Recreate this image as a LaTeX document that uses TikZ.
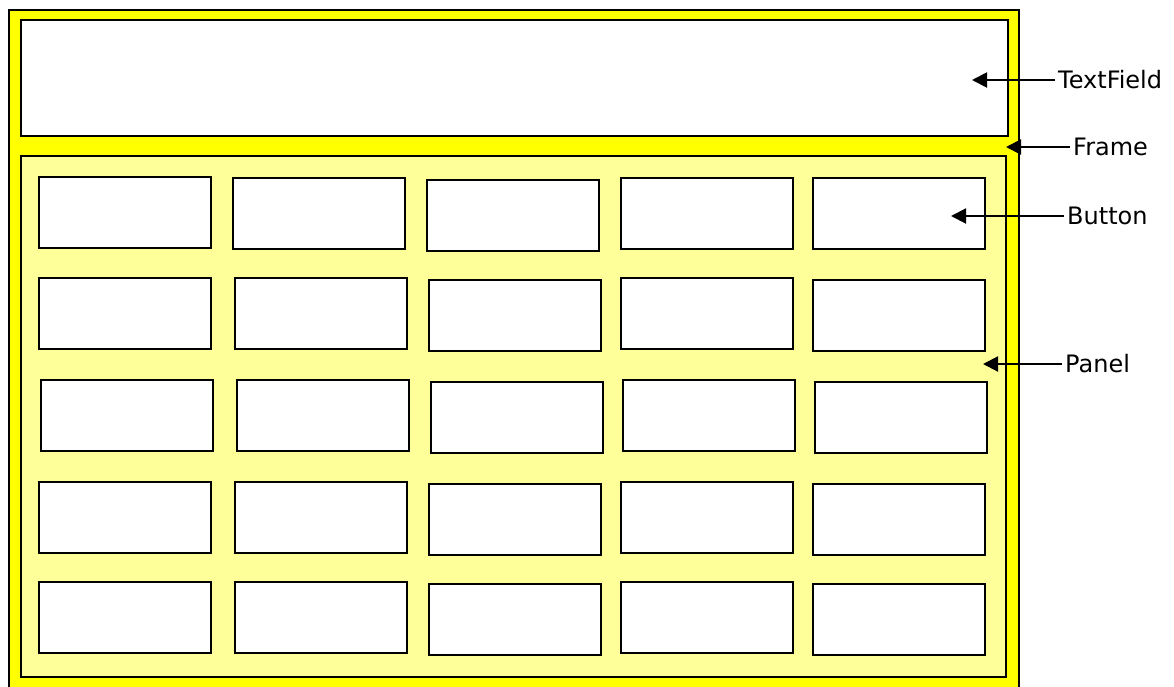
\documentclass[tikz,border=0pt]{standalone}
\usepackage{fontspec}
\setsansfont{DejaVu Sans}
\usetikzlibrary{arrows.meta,positioning}
\definecolor{frameyellow}{RGB}{255,255,0}
\definecolor{panelyellow}{RGB}{255,255,153}

\begin{document}
\begin{tikzpicture}[x=1pt,y=-1pt,
    box/.style={draw=black,line width=1.6pt},
    btn/.style={draw=black,fill=white,line width=2pt},
    lbl/.style={font=\sffamily\fontsize{24}{28}\selectfont,anchor=west,inner sep=3pt},
    pointer/.style={-{Triangle[length=15pt,width=15pt]},line width=2pt}]
        \useasboundingbox (0,0) rectangle (1174,686);
        % frame, text field and panel
        \draw[box,fill=frameyellow] (9,10) rectangle (1019,700);
        \draw[box,fill=white] (21,20) rectangle (1008,136);
        \draw[box,fill=panelyellow] (21,156) rectangle (1006,677);
        % 5x5 buttons
        \foreach \bx/\by in {39/177,233/178,427/180,621/178,813/178,
                             39/278,235/278,429/280,621/278,813/280,
                             41/380,237/380,431/382,623/380,815/382,
                             39/482,235/482,429/484,621/482,813/484,
                             39/582,235/582,429/584,621/582,813/584}
            \draw[btn] (\bx,\by) rectangle ++(172,71);
        % labels
        \node[lbl] (tflabel) at (1055,80) {TextField};
        \node[lbl] (frlabel) at (1070,147) {Frame};
        \node[lbl] (btlabel) at (1064,216) {Button};
        \node[lbl] (pnlabel) at (1062,364) {Panel};
        \coordinate (tfpoint) at (972,80);
        \coordinate (frpoint) at (1006,147);
        \coordinate (btpoint) at (951,216);
        \coordinate (pnpoint) at (983,364);
        \draw[pointer] (tflabel.west) -- (tfpoint);
        \draw[pointer] (frlabel.west) -- (frpoint);
        \draw[pointer] (btlabel.west) -- (btpoint);
        \draw[pointer] (pnlabel.west) -- (pnpoint);
    \end{tikzpicture}
\end{document}
